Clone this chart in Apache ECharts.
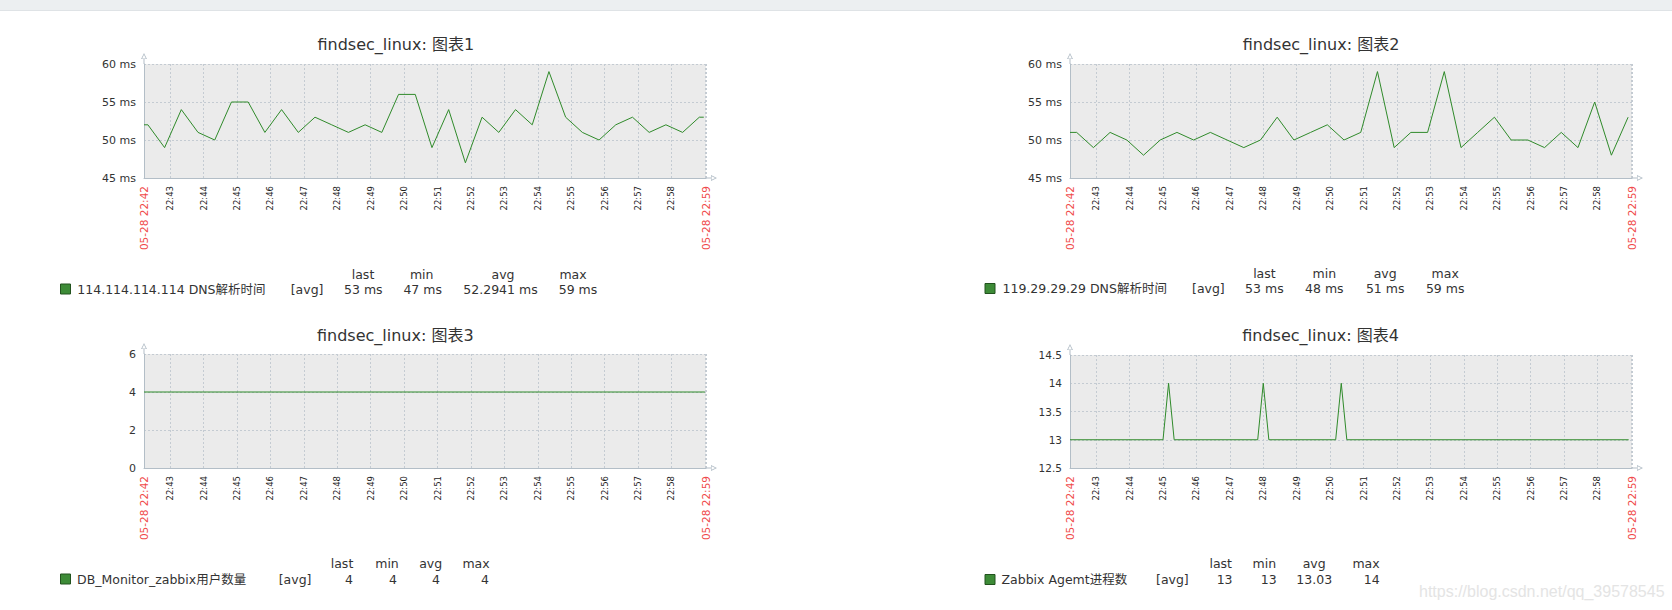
<!DOCTYPE html>
<html>
<head>
<meta charset="utf-8">
<script src="https://cdn.jsdelivr.net/npm/echarts@6/dist/echarts.min.js"></script>
<style>
html,body{margin:0;padding:0;background:#ffffff;}
#c{width:1672px;height:610px;}
</style>
</head>
<body>
<div id="c"></div>
<script>
// ---------------- DATA ----------------
const chartTitles = ['findsec_linux: 图表1', 'findsec_linux: 图表2', 'findsec_linux: 图表3', 'findsec_linux: 图表4'];
const windowStart = '22:42:13';
const windowEnd = '22:59:02';
const edgeLabels = ['05-28 22:42', '05-28 22:59'];

const dns1Times = ['22:42:13','22:42:20','22:42:50','22:43:20','22:43:50','22:44:20','22:44:50','22:45:20','22:45:50',
  '22:46:20','22:46:50','22:47:20','22:47:50','22:48:20','22:48:50','22:49:20','22:49:50','22:50:20','22:50:50',
  '22:51:20','22:51:50','22:52:20','22:52:50','22:53:20','22:53:50','22:54:20','22:54:50','22:55:20','22:55:50',
  '22:56:20','22:56:50','22:57:20','22:57:50','22:58:20','22:58:50','22:58:58'];
const dns1Values = [52, 52,49,54,51,50,55,55,51,54,51,53,52,51,52,51,56,56,49,54,47,53,51,54,52,59,53,51,50,52,53,51,52,51,53, 53];

const dns2Times = ['22:42:13','22:42:25','22:42:55','22:43:25','22:43:55','22:44:25','22:44:55','22:45:25','22:45:55',
  '22:46:25','22:46:55','22:47:25','22:47:55','22:48:25','22:48:55','22:49:25','22:49:55','22:50:25','22:50:55',
  '22:51:25','22:51:55','22:52:25','22:52:55','22:53:25','22:53:55','22:54:25','22:54:55','22:55:25','22:55:55',
  '22:56:25','22:56:55','22:57:25','22:57:55','22:58:25','22:58:55'];
const dns2Values = [51, 51,49,51,50,48,50,51,50,51,50,49,50,53,50,51,52,50,51,59,49,51,51,59,49,51,53,50,50,49,51,49,55,48,53];

const usersTimes = ['22:42:13','22:59:00'];
const usersValues = [4, 4];

const agentTimes = ['22:42:13','22:45:00','22:45:10','22:45:20','22:47:50','22:48:00','22:48:10','22:50:10','22:50:20','22:50:30','22:58:56'];
const agentValues = [13,13,14,13,13,14,13,13,14,13,13];

const yMins = [45, 45, 0, 12.5];
const yMaxs = [60, 60, 6, 14.5];
const yIntervals = [5, 5, 2, 0.5];
const yUnits = [' ms', ' ms', '', ''];

const legendNames = ['114.114.114.114 DNS解析时间', '119.29.29.29 DNS解析时间', 'DB_Monitor_zabbix用户数量', 'Zabbix Agemt进程数'];
const legendFunc = '[avg]';
const legendHeaders = ['last', 'min', 'avg', 'max'];
const legendStats = [
  ['53 ms', '47 ms', '52.2941 ms', '59 ms'],
  ['53 ms', '48 ms', '51 ms', '59 ms'],
  ['4', '4', '4', '4'],
  ['13', '13', '13.03', '14']
];
const watermark = 'https://blog.csdn.net/qq_39578545';

// ---------------- LAYOUT / STYLE ----------------
const FONT = '"DejaVu Sans","Noto Sans CJK SC",sans-serif';
const AXIS_COLOR = '#b3bec7';
const GRID_COLOR = '#c4cbd2';
const LINE_COLOR = '#2f8a2a';
const TEXT_COLOR = '#333333';
const ARROW = 'path://M6 0L12 12L0 12ZM6 3.6L2.3 10.8L9.7 10.8ZM5 12L7 12L7 22L5 22Z';

const gridBoxes = [
  {left: 144, top: 64, width: 562, height: 114},
  {left: 1070, top: 64, width: 562, height: 114},
  {left: 144, top: 354, width: 562, height: 114},
  {left: 1070, top: 355, width: 562, height: 113}
];
const titlePos = [[395.8, 44.7], [1321, 44.7], [395.3, 335], [1320.5, 335]];
const legendLayout = [
  {sq: [60, 283.5], name: 77.3, fn: 290.7, yh: 274, yv: 289.3, hx: [363, 421.7, 503, 573], vx: [363.3, 422.7, 500.5, 578]},
  {sq: [984.5, 283], name: 1002.5, fn: 1192, yh: 273.3, yv: 288.7, hx: [1264.4, 1324.3, 1385.2, 1445.2], vx: [1264.4, 1324.3, 1385.2, 1445.2]},
  {sq: [60, 573.5], name: 77, fn: 278.7, yh: 563.3, yv: 579.3, hx: [342, 387, 430.7, 476], vx: [349, 393, 436, 485]},
  {sq: [984.5, 574], name: 1001.5, fn: 1156, yh: 563.3, yv: 579.5, hx: [1220.7, 1264.4, 1314.2, 1366], vx: [1224.6, 1268.7, 1314.2, 1371.8]}
];

function ts(hms) {
  const p = hms.split(':').map(Number);
  return Date.UTC(2020, 4, 28, p[0], p[1], p[2]);
}
function pad(n) { return (n < 10 ? '0' : '') + n; }
const tMin = ts(windowStart), tMax = ts(windowEnd);
function minuteLabel(v) {
  const d = new Date(v);
  if (d.getUTCSeconds() !== 0 || d.getUTCMilliseconds() !== 0) return '';
  if (v - tMin < 20000 || tMax - v < 20000) return '';
  return pad(d.getUTCHours()) + ':' + pad(d.getUTCMinutes());
}

const seriesTimes = [dns1Times, dns2Times, usersTimes, agentTimes];
const seriesValues = [dns1Values, dns2Values, usersValues, agentValues];

const grids = [], xAxes = [], yAxes = [], series = [];
const splitStyle = {show: true, lineStyle: {color: GRID_COLOR, type: [2, 2], width: 1}};

for (let i = 0; i < 4; i++) {
  const g = gridBoxes[i];
  grids.push({left: g.left, top: g.top, width: g.width, height: g.height, show: true,
    backgroundColor: '#ebebeb', borderWidth: 0, containLabel: false, outerBoundsMode: 'none'});
  xAxes.push({
    type: 'time', gridIndex: i, min: tMin, max: tMax,
    splitNumber: 20, minInterval: 60000, maxInterval: 60000, position: 'bottom',
    axisLine: {show: true, onZero: false, lineStyle: {color: AXIS_COLOR, width: 1},
      symbol: ['none', ARROW], symbolSize: [6, 11], symbolOffset: [0, 5.5]},
    axisTick: {show: false},
    axisLabel: {rotate: 90, fontSize: 8.5, fontFamily: FONT, color: '#222222', margin: 8,
      formatter: minuteLabel, hideOverlap: false},
    splitLine: splitStyle
  });
  xAxes.push({
    type: 'value', gridIndex: i, min: 0, max: 1, interval: 1, position: 'bottom',
    axisLine: {show: false, onZero: false}, axisTick: {show: false},
    axisLabel: {rotate: 90, fontSize: 10.5, fontFamily: FONT, color: '#f04a4a', margin: 8,
      showMinLabel: true, showMaxLabel: true,
      formatter: function (v) { return v === 0 ? edgeLabels[0] : edgeLabels[1]; }},
    splitLine: {show: false}
  });
  yAxes.push({
    type: 'value', gridIndex: i, min: yMins[i], max: yMaxs[i], interval: yIntervals[i],
    axisLine: {show: true, onZero: false, lineStyle: {color: AXIS_COLOR, width: 1},
      symbol: ['none', ARROW], symbolSize: [6, 11], symbolOffset: [0, 5.5]},
    axisTick: {show: false},
    axisLabel: {fontSize: i === 3 ? 10.5 : 11, fontFamily: FONT, color: TEXT_COLOR, margin: 8,
      formatter: (function (u) { return function (v) { return v + u; }; })(yUnits[i])},
    splitLine: splitStyle
  });
  series.push({
    type: 'line', xAxisIndex: 2 * i, yAxisIndex: i,
    data: seriesTimes[i].map(function (t, k) { return [ts(t), seriesValues[i][k]]; }),
    showSymbol: false, symbol: 'none', animation: false,
    lineStyle: {color: LINE_COLOR, width: 1}, z: 3
  });
}

function txt(x, y, text, size, color, align, family) {
  return {type: 'text', x: x, y: y, z: 10,
    style: {text: text, fill: color, fontSize: size, fontFamily: family || FONT,
      align: align, textAlign: align, verticalAlign: 'middle', textVerticalAlign: 'middle'}};
}

const graphics = [];
graphics.push({type: 'rect', shape: {x: 0, y: 0, width: 1672, height: 10}, style: {fill: '#eceff1'}, z: -10});
graphics.push({type: 'rect', shape: {x: 0, y: 10, width: 1672, height: 1}, style: {fill: '#dfe3e6'}, z: -10});
for (let i = 0; i < 4; i++) {
  graphics.push(txt(titlePos[i][0], titlePos[i][1], chartTitles[i], 16, TEXT_COLOR, 'center'));
  const L = legendLayout[i];
  graphics.push({type: 'rect', shape: {x: L.sq[0] + 0.5, y: L.sq[1] + 0.5, width: 10, height: 10},
    style: {fill: '#3d8b37', stroke: '#22521e', lineWidth: 1}, z: 10});
  graphics.push(txt(L.name, L.yv, legendNames[i], 12.5, TEXT_COLOR, 'left'));
  graphics.push(txt(L.fn, L.yv, legendFunc, 12.5, TEXT_COLOR, 'left'));
  for (let k = 0; k < 4; k++) {
    graphics.push(txt(L.hx[k], L.yh, legendHeaders[k], 12.5, TEXT_COLOR, 'center'));
    graphics.push(txt(L.vx[k], L.yv, legendStats[i][k], 12.5, TEXT_COLOR, 'center'));
  }
}
graphics.push(txt(1419, 591.7, watermark, 16, '#e4e4e4', 'left', '"Liberation Sans",Arial,sans-serif'));

const chart = echarts.init(document.getElementById('c'), null, {renderer: 'svg', width: 1672, height: 610});
chart.setOption({
  animation: false,
  useUTC: true,
  backgroundColor: '#ffffff',
  textStyle: {fontFamily: FONT},
  grid: grids,
  xAxis: xAxes,
  yAxis: yAxes,
  series: series,
  graphic: {elements: graphics}
});
</script>
</body>
</html>
